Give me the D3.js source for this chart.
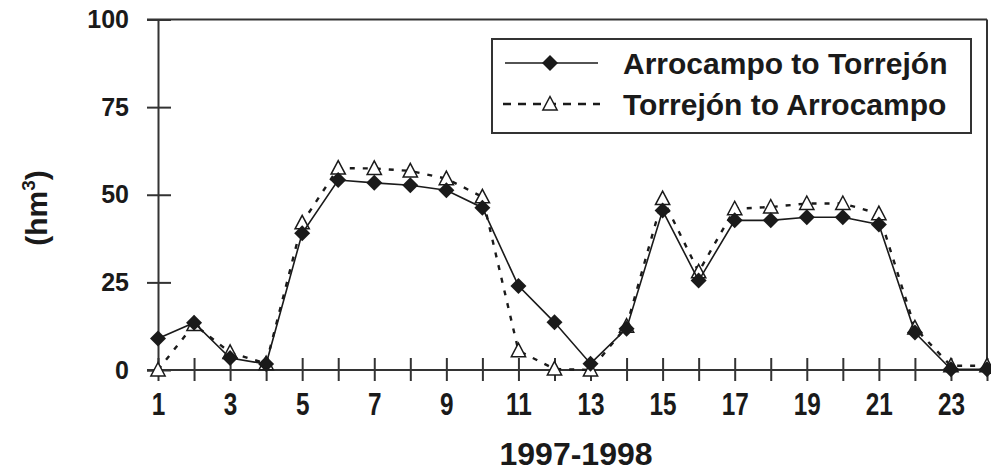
<!DOCTYPE html>
<html>
<head>
<meta charset="utf-8">
<script src="https://cdn.jsdelivr.net/npm/d3@7"></script>
<style>
  html, body { margin: 0; padding: 0; background: #fff; }
  svg { display: block; font-family: "Liberation Sans", Arial, sans-serif; }
</style>
</head>
<body>
<svg id="chart" width="991" height="475"></svg>
<script>
// ---- data ----
const months = d3.range(1, 25);
const arrocampoToTorrejon = [9, 13.5, 3.4, 1.7, 39, 54.2, 53.4, 52.7, 51.3, 46.3, 24, 13.6,
                             1.8, 11.8, 45.5, 25.5, 42.7, 42.7, 43.6, 43.6, 41.5, 10.7, 0.2, 0.2];
const torrejonToArrocampo = [0, 13, 5, 1.8, 42, 57.6, 57.5, 56.8, 54.6, 49.4, 5.5, 0.3,
                             0, 12.5, 48.9, 28, 46, 46.5, 47.5, 47.5, 44.6, 12, 1.2, 1.2];
const xTickLabels = [1, 3, 5, 7, 9, 11, 13, 15, 17, 19, 21, 23];
const yTickLabels = [0, 25, 50, 75, 100];
const seriesNames = ["Arrocampo to Torrejón", "Torrejón to Arrocampo"];
const xTitle = "1997-1998";

// ---- layout ----
const svg = d3.select("#chart");
const x = d3.scaleLinear().domain([1, 24]).range([158, 987]);
const y = d3.scaleLinear().domain([0, 100]).range([370, 19.5]);
const ink = "#1a1a1a";
const axisCol = "#333";

// frame (top and right)
svg.append("line").attr("x1", 147).attr("x2", x(24)).attr("y1", y(100)).attr("y2", y(100))
  .attr("stroke", axisCol).attr("stroke-width", 2);
svg.append("line").attr("x1", x(24)).attr("x2", x(24)).attr("y1", y(100)).attr("y2", y(0))
  .attr("stroke", axisCol).attr("stroke-width", 2);

// y axis
const yAxis = svg.append("g").attr("transform", `translate(${x(1)},0)`)
  .call(d3.axisLeft(y).tickValues(yTickLabels).tickSize(11).tickPadding(15));
yAxis.select(".domain").attr("stroke", axisCol).attr("stroke-width", 2);
yAxis.selectAll(".tick line").attr("x1", 13).attr("stroke", axisCol).attr("stroke-width", 2);
yAxis.selectAll(".tick text").attr("font-size", 25).attr("font-weight", "bold")
  .attr("fill", ink).attr("font-family", "Liberation Sans, Arial, sans-serif").attr("dx", "-3");

// x axis
const xAxis = svg.append("g").attr("transform", `translate(0,${y(0)})`)
  .call(d3.axisBottom(x).tickValues(months).tickSize(11).tickPadding(6)
    .tickFormat(d => xTickLabels.includes(d) ? d : ""));
xAxis.select(".domain").remove();
svg.append("line").attr("x1", 147).attr("x2", x(24)).attr("y1", y(0)).attr("y2", y(0))
  .attr("stroke", axisCol).attr("stroke-width", 2);
xAxis.selectAll(".tick line").attr("y1", -12).attr("stroke", axisCol).attr("stroke-width", 2);
xAxis.selectAll(".tick text").attr("font-size", 32).attr("font-weight", "bold")
  .attr("fill", ink).attr("font-family", "Liberation Sans, Arial, sans-serif")
  .attr("y", 0).attr("dy", 0).attr("transform", "translate(0,45) scale(0.76,1)");

// titles
svg.append("text").attr("x", 576).attr("y", 465).attr("text-anchor", "middle")
  .attr("font-size", 32).attr("font-weight", "bold").attr("fill", ink).text(xTitle);
const yl = svg.append("text").attr("transform", "translate(47,208) rotate(-90)")
  .attr("text-anchor", "middle").attr("font-size", 30).attr("font-weight", "bold").attr("fill", ink);
yl.append("tspan").text("(hm");
yl.append("tspan").attr("font-size", 19).attr("dy", -12).text("3");
yl.append("tspan").attr("dy", 12).text(")");

// shapes
const diamond = s => `M0,${-s}L${s},0L0,${s}L${-s},0Z`;
const triangle = s => `M0,${-s}L${s * 0.95},${s * 0.8}L${-s * 0.95},${s * 0.8}Z`;

const line = d3.line().x((d, i) => x(months[i])).y(d => y(d));

// series B (dashed, triangles)
svg.append("path").datum(torrejonToArrocampo).attr("d", line)
  .attr("fill", "none").attr("stroke", ink).attr("stroke-width", 2.4)
  .attr("stroke-dasharray", "5,8");
svg.append("g").selectAll("path").data(torrejonToArrocampo).join("path")
  .attr("transform", (d, i) => `translate(${x(months[i])},${y(d)})`)
  .attr("d", triangle(7.5)).attr("fill", "#fff").attr("stroke", ink).attr("stroke-width", 1.5);

// series A (solid, diamonds)
svg.append("path").datum(arrocampoToTorrejon).attr("d", line)
  .attr("fill", "none").attr("stroke", ink).attr("stroke-width", 1.6);
svg.append("g").selectAll("path").data(arrocampoToTorrejon).join("path")
  .attr("transform", (d, i) => `translate(${x(months[i])},${y(d)})`)
  .attr("d", diamond(8)).attr("fill", ink);

// legend
const lg = svg.append("g");
lg.append("rect").attr("x", 492).attr("y", 39).attr("width", 479).attr("height", 94)
  .attr("fill", "#fff").attr("stroke", axisCol).attr("stroke-width", 2);
lg.append("line").attr("x1", 505).attr("x2", 598).attr("y1", 63).attr("y2", 63)
  .attr("stroke", ink).attr("stroke-width", 1.6);
lg.append("path").attr("transform", "translate(550,63)").attr("d", diamond(8)).attr("fill", ink);
lg.append("line").attr("x1", 503).attr("x2", 600).attr("y1", 104).attr("y2", 104)
  .attr("stroke", ink).attr("stroke-width", 2.6).attr("stroke-dasharray", "8,7");
lg.append("path").attr("transform", "translate(550,104)").attr("d", triangle(7.5))
  .attr("fill", "#fff").attr("stroke", ink).attr("stroke-width", 1.5);
lg.selectAll("text.lab").data(seriesNames).join("text").attr("class", "lab")
  .attr("x", 623).attr("y", (d, i) => i === 0 ? 63 : 104).attr("dy", "0.35em")
  .attr("font-size", 30).attr("font-weight", "bold").attr("fill", ink).text(d => d);
</script>
</body>
</html>
